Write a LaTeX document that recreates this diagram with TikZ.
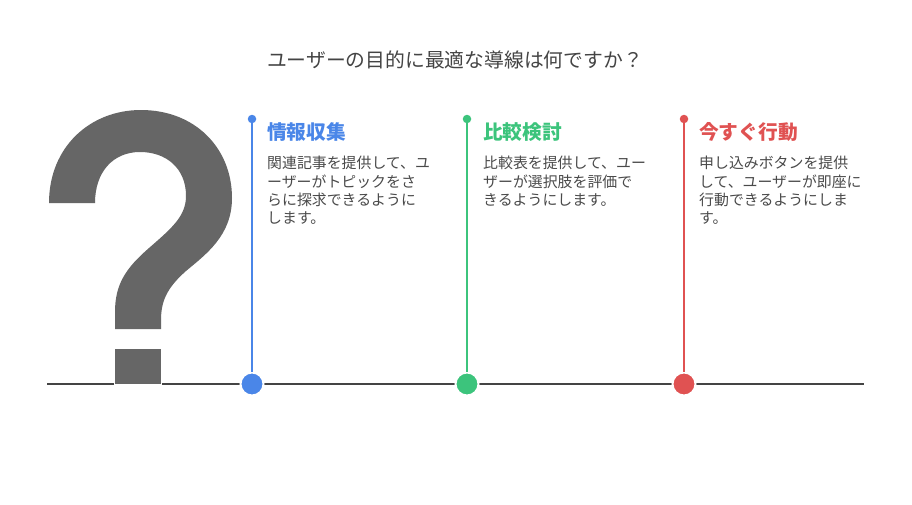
\documentclass[tikz,border=0pt]{standalone}
\usepackage{fontspec}
\setmainfont{Noto Sans CJK JP}
\definecolor{qgray}{HTML}{666666}
\definecolor{lgray}{HTML}{444444}
\definecolor{tgray}{HTML}{4A4A4A}
\definecolor{cblue}{HTML}{4A86E8}
\definecolor{cgreen}{HTML}{3CC47C}
\definecolor{cred}{HTML}{E05252}
\tikzset{
  bigdot/.style={circle, minimum size=23pt, inner sep=0pt, draw=white, line width=2pt},
  smalldot/.style={circle, minimum size=8.5pt, inner sep=0pt},
  stem/.style={line width=2pt},
  headtxt/.style={anchor=north west, inner sep=0pt, font=\fontsize{19.7}{22}\selectfont\bfseries},
  bodytxt/.style={anchor=north west, inner sep=0pt, align=left, text=tgray, font=\fontsize{14.9}{18.3}\selectfont},
}
\begin{document}
\begin{tikzpicture}[x=1pt,y=-1pt]
\useasboundingbox[fill=white] (0,0) rectangle (912,504);
% title
\node[font=\fontsize{19.8}{22}\selectfont, text=lgray] (title) at (455,60) {ユーザーの目的に最適な導線は何ですか？};
% baseline
\coordinate (bl) at (47,384);
\coordinate (br) at (864,384);
\draw[lgray, line width=2pt] (bl) -- (br);
% question mark
\fill[qgray] (49,203) .. controls (49,147) and (90,110) .. (141,110)
  .. controls (195,110) and (232,148) .. (232,198)
  .. controls (232,236) and (205,255) .. (186,271)
  .. controls (168,287) and (161,300) .. (161,320) -- (161,329) -- (115,329) -- (115,312)
  .. controls (115,284) and (126,268) .. (149,248)
  .. controls (172,228) and (186,216) .. (186,196)
  .. controls (186,168) and (166,152) .. (140,152)
  .. controls (113,152) and (95,172) .. (95,203) -- cycle;
\node[fill=qgray, draw=white, line width=1pt, minimum width=47pt, minimum height=36pt, inner sep=0pt] (qdot) at (138,366.5) {};
% columns
\foreach \n/\x/\c in {a/252/cblue, b/467/cgreen, c/684/cred}{
  \node[smalldot, fill=\c] (s\n) at (\x,119) {};
  \node[bigdot, fill=\c] (d\n) at (\x,384) {};
  \draw[stem, \c] (s\n) -- (d\n);
}
\node[headtxt, text=cblue] (ha) at (267,122) {情報収集};
\node[headtxt, text=cgreen] (hb) at (483,122) {比較検討};
\node[headtxt, text=cred] (hc) at (699,122) {今すぐ行動};
\node[bodytxt] (ta) at (267,156) {関連記事を提供して、ユ\\ーザーがトピックをさ\\らに探求できるように\\します。};
\node[bodytxt] (tb) at (483,156) {比較表を提供して、ユー\\ザーが選択肢を評価で\\きるようにします。};
\node[bodytxt] (tc) at (699,156) {申し込みボタンを提供\\して、ユーザーが即座に\\行動できるようにしま\\す。};
\end{tikzpicture}
\end{document}
